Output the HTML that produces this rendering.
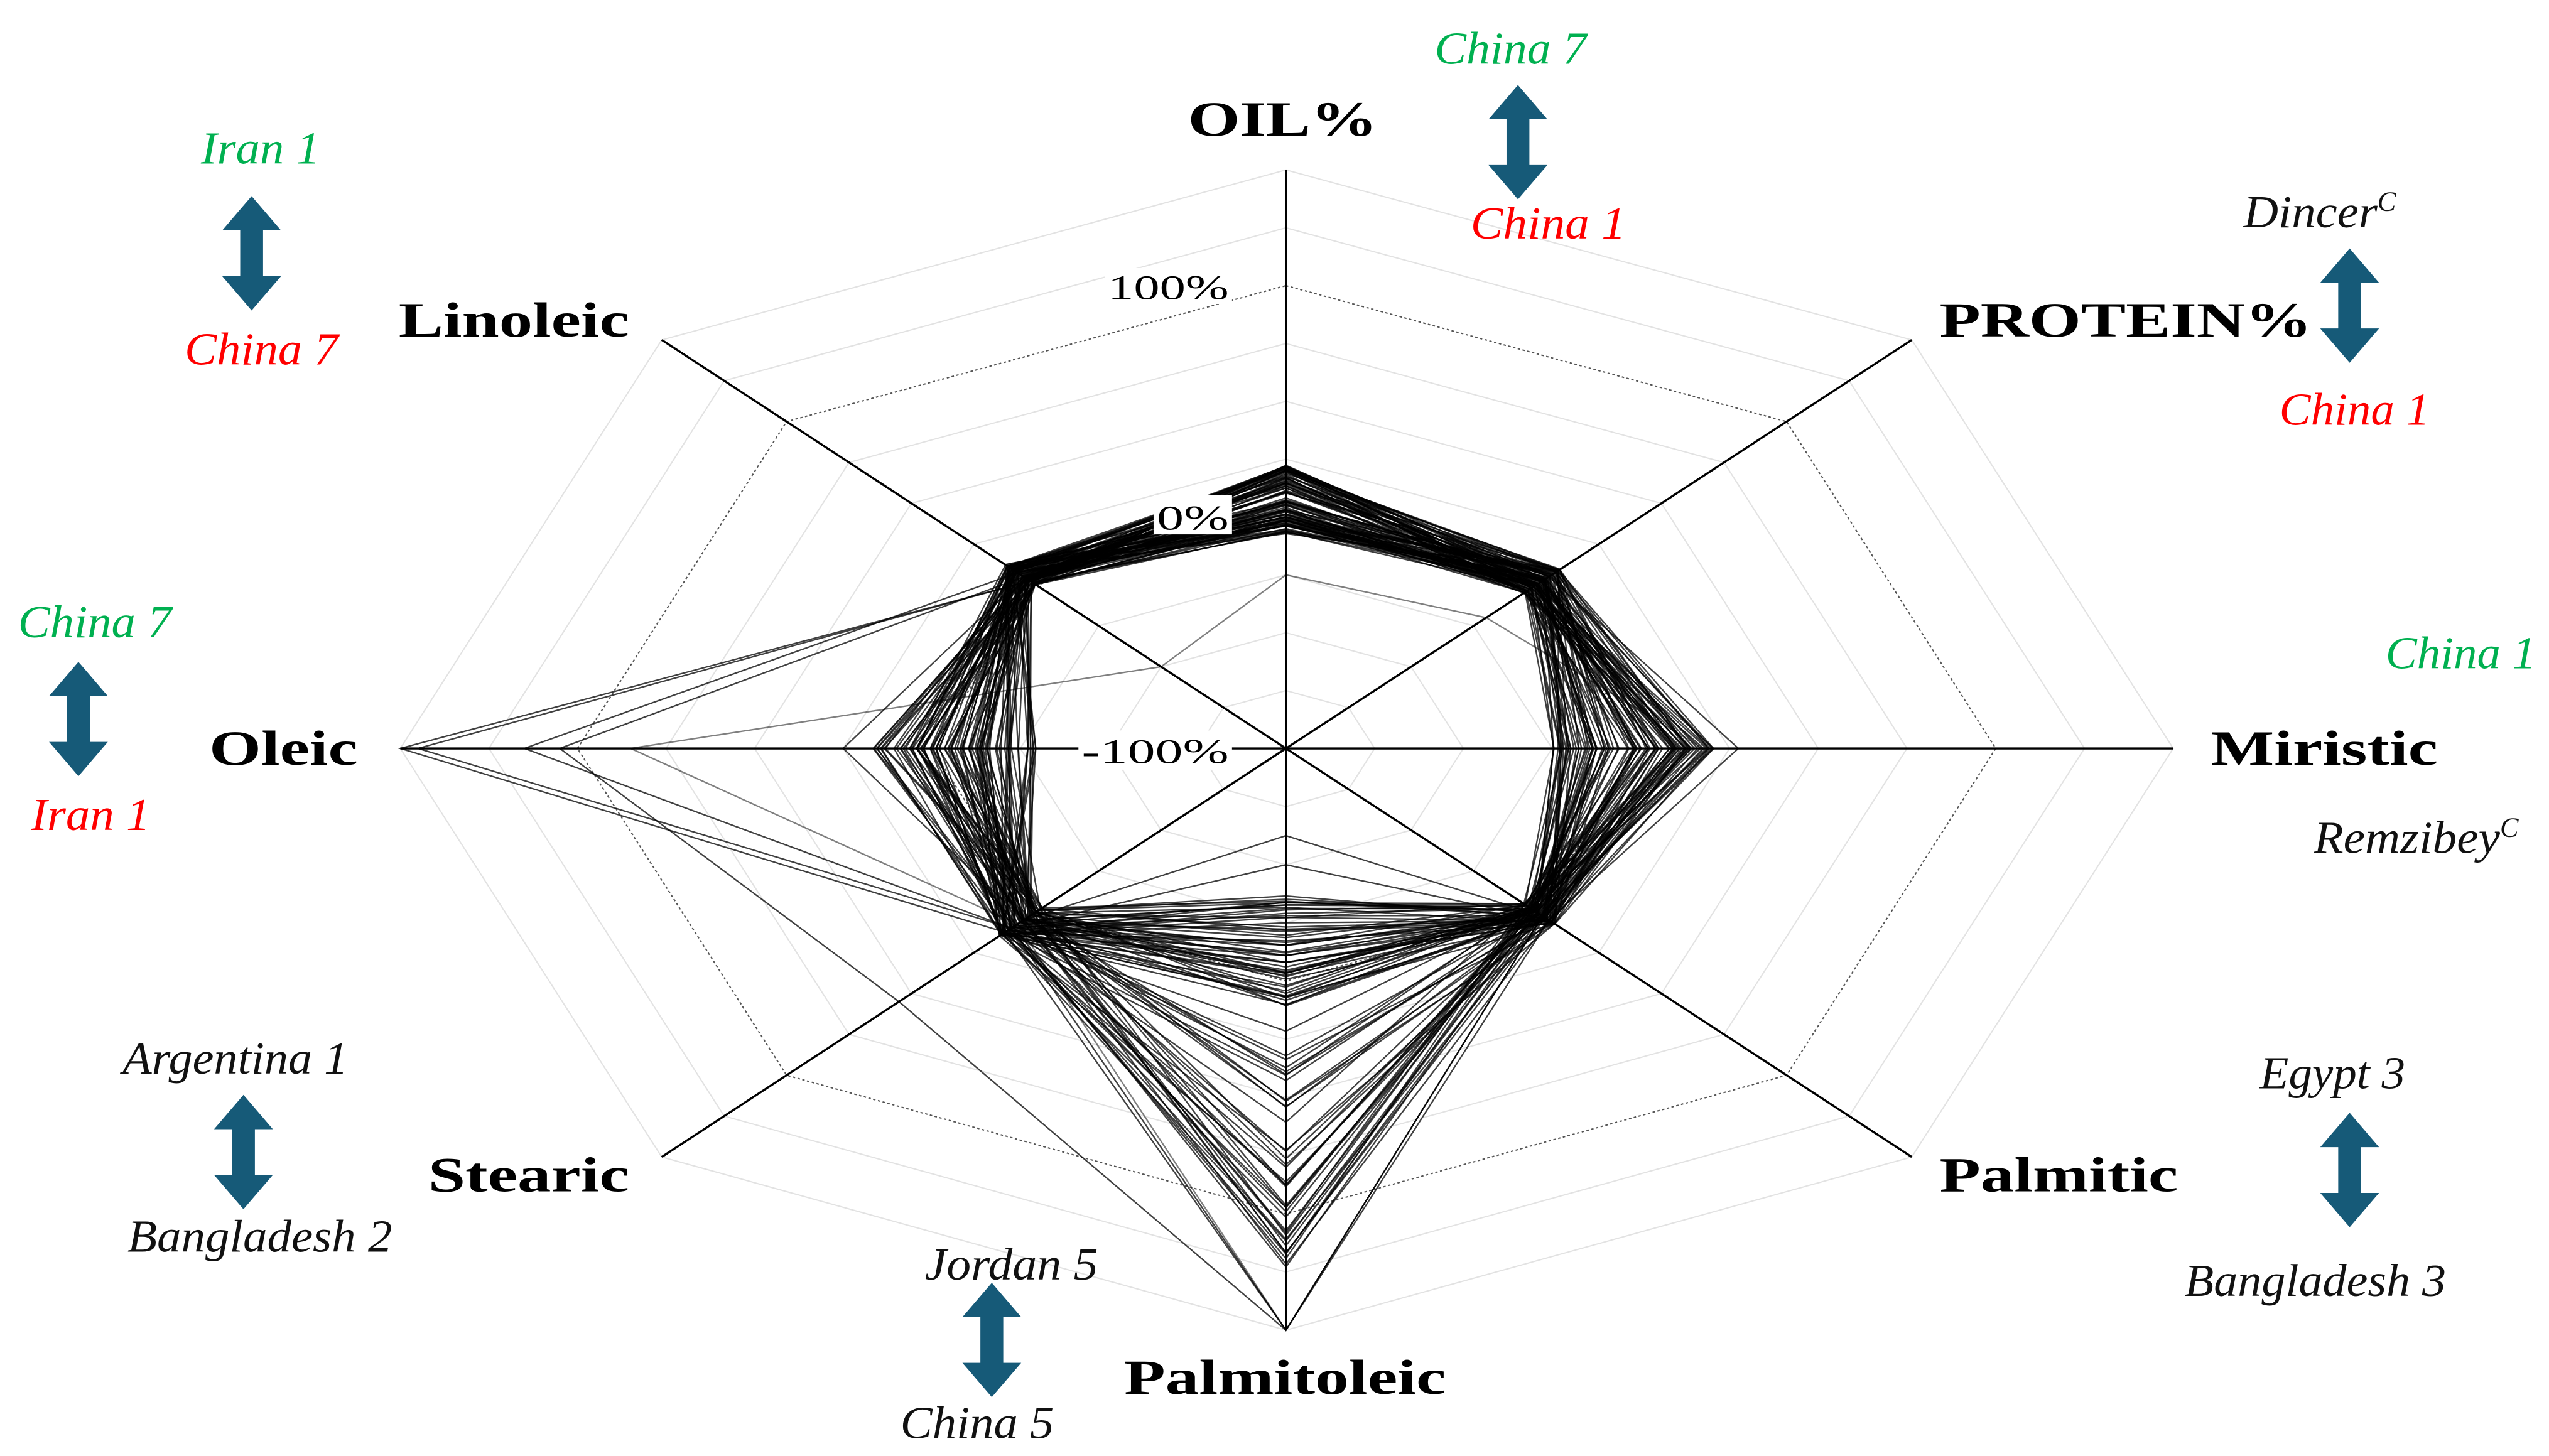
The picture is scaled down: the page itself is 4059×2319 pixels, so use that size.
<!DOCTYPE html>
<html><head><meta charset="utf-8"><style>
html,body{margin:0;padding:0;background:#fff}
svg{display:block}
.ax{font-family:"Liberation Serif",serif;font-weight:bold;font-size:30px;fill:#000}
.it{font-family:"Liberation Serif",serif;font-style:italic;font-size:28px}
.g{fill:#00b050}.r{fill:#ff0000}.k{fill:#111}
.pc{font-family:"Liberation Serif",serif;font-size:21px;fill:#000}
</style></head><body>
<svg id="s" width="4059" height="2319" viewBox="0 0 1560 891" preserveAspectRatio="none" xmlns="http://www.w3.org/2000/svg">
<defs>
<g id="arr"><polygon points="0,-35 18,-14 7,-14 7,14 18,14 0,35 -18,14 -7,14 -7,-14 -18,-14" fill="#165a78"/></g>
</defs>
<g id="grid"></g>
<g id="data" fill="none" stroke="#000" stroke-width="0.9" stroke-opacity="0.75"></g>
<g id="axes" stroke="#000" stroke-width="1.3"></g>
<rect x="706" y="303" width="48" height="24" fill="#fff"/>
<text class="pc" x="708" y="324" textLength="44" lengthAdjust="spacingAndGlyphs">0%</text>
<rect x="676" y="164" width="78" height="22" fill="#fff"/>
<text class="pc" x="678" y="183" textLength="74" lengthAdjust="spacingAndGlyphs">100%</text>
<rect x="660" y="447" width="94" height="24" fill="#fff"/>
<text class="pc" x="662" y="467" textLength="90" lengthAdjust="spacingAndGlyphs">-100%</text>

<g lengthAdjust="spacingAndGlyphs">
<text class="ax" x="727" y="83" textLength="116" lengthAdjust="spacingAndGlyphs">OIL%</text>
<text class="ax" x="1187" y="206" textLength="228" lengthAdjust="spacingAndGlyphs">PROTEIN%</text>
<text class="ax" x="1353" y="468" textLength="139" lengthAdjust="spacingAndGlyphs">Miristic</text>
<text class="ax" x="1187" y="729" textLength="146" lengthAdjust="spacingAndGlyphs">Palmitic</text>
<text class="ax" x="688" y="853" textLength="197" lengthAdjust="spacingAndGlyphs">Palmitoleic</text>
<text class="ax" x="262" y="729" textLength="123" lengthAdjust="spacingAndGlyphs">Stearic</text>
<text class="ax" x="128" y="468" textLength="91" lengthAdjust="spacingAndGlyphs">Oleic</text>
<text class="ax" x="244" y="206" textLength="141" lengthAdjust="spacingAndGlyphs">Linoleic</text>
</g>

<text class="it g" x="878" y="39" textLength="93" lengthAdjust="spacingAndGlyphs">China 7</text>
<use href="#arr" x="929" y="87"/>
<text class="it r" x="900" y="146" textLength="95" lengthAdjust="spacingAndGlyphs">China 1</text>

<text class="it g" x="123" y="100" textLength="73" lengthAdjust="spacingAndGlyphs">Iran 1</text>
<use href="#arr" x="154" y="155"/>
<text class="it r" x="113" y="223" textLength="94" lengthAdjust="spacingAndGlyphs">China 7</text>

<text class="it k" x="1373" y="139"><tspan textLength="82" lengthAdjust="spacingAndGlyphs">Dincer</tspan><tspan font-size="17" dy="-10">C</tspan></text>
<use href="#arr" x="1438" y="187"/>
<text class="it r" x="1395" y="260" textLength="92" lengthAdjust="spacingAndGlyphs">China 1</text>

<text class="it g" x="11" y="390" textLength="94" lengthAdjust="spacingAndGlyphs">China 7</text>
<use href="#arr" x="48" y="440"/>
<text class="it r" x="19" y="508" textLength="73" lengthAdjust="spacingAndGlyphs">Iran 1</text>

<text class="it g" x="1460" y="409" textLength="92" lengthAdjust="spacingAndGlyphs">China 1</text>
<text class="it k" x="1416" y="522"><tspan textLength="114" lengthAdjust="spacingAndGlyphs">Remzibey</tspan><tspan font-size="17" dy="-10">C</tspan></text>

<text class="it k" x="75" y="657" textLength="138" lengthAdjust="spacingAndGlyphs">Argentina 1</text>
<use href="#arr" x="149" y="705"/>
<text class="it k" x="78" y="766" textLength="162" lengthAdjust="spacingAndGlyphs">Bangladesh 2</text>

<text class="it k" x="1383" y="666" textLength="89" lengthAdjust="spacingAndGlyphs">Egypt 3</text>
<use href="#arr" x="1438" y="716"/>
<text class="it k" x="1337" y="793" textLength="160" lengthAdjust="spacingAndGlyphs">Bangladesh 3</text>

<text class="it k" x="566" y="783" textLength="106" lengthAdjust="spacingAndGlyphs">Jordan 5</text>
<use href="#arr" x="607" y="820"/>
<text class="it k" x="551" y="880" textLength="94" lengthAdjust="spacingAndGlyphs">China 5</text>
</svg>
<script>
(function(){
var NS="http://www.w3.org/2000/svg";
var C=[787,458];
var V=[[0,-354],[383,-250],[543,0],[383,250],[0,356],[-382,250],[-542,0],[-382,-250]];
function P(i,f){return [C[0]+V[i][0]*f,C[1]+V[i][1]*f];}
function poly(g,fs,attrs,close){var p=document.createElementNS(NS,"polyline");var pts=[];for(var i=0;i<fs.length;i++){var q=P(i,fs[i]);pts.push(q[0].toFixed(1)+","+q[1].toFixed(1));}if(close){var q=P(0,fs[0]);pts.push(q[0].toFixed(1)+","+q[1].toFixed(1));}p.setAttribute("points",pts.join(" "));for(var k in attrs)p.setAttribute(k,attrs[k]);g.appendChild(p);}
var grid=document.getElementById("grid");
for(var r=1;r<=10;r++){var f=r/10;var a={fill:"none",stroke:"#e2e2e2","stroke-width":"0.8"};
if(r==4||r==8){a.stroke="#555";a["stroke-dasharray"]="1.5,1.5";}
poly(grid,[f,f,f,f,f,f,f,f],a,true);}
var axes=document.getElementById("axes");
for(var i=0;i<8;i++){var l=document.createElementNS(NS,"line");var q=P(i,1);l.setAttribute("x1",C[0]);l.setAttribute("y1",C[1]);l.setAttribute("x2",q[0]);l.setAttribute("y2",q[1]);axes.appendChild(l);}
var s=12345;function rnd(){s=(s*16807)%2147483647;return s/2147483647;}
function rr(a,b){return a+(b-a)*rnd();}
var data=document.getElementById("data");
for(var n=0;n<95;n++){
var pal=rnd()<0.55?rr(0.25,0.45):rr(0.45,0.92);
var fs=[rr(0.37,0.49),rr(0.38,0.44),rr(0.3,0.49),rr(0.38,0.43),pal,rr(0.39,0.46),rr(0.28,0.47),rr(0.4,0.45)];
poly(data,fs,{},true);}
poly(data,[0.48,0.42,0.51,0.42,1.0,0.45,1.0,0.41],{},true);
poly(data,[0.45,0.41,0.35,0.41,1.0,0.62,0.82,0.42],{},true);
poly(data,[0.3,0.32,0.47,0.41,1.0,0.43,0.74,0.2],{"stroke-opacity":"0.5"},true);
poly(data,[0.43,0.41,0.44,0.41,1.0,0.44,0.98,0.41],{},true);
poly(data,[0.4,0.41,0.42,0.42,0.2,0.44,0.86,0.43],{},true);
poly(data,[0.42,0.4,0.33,0.41,0.15,0.42,0.5,0.42],{},true);
})();
</script>
</body></html>
